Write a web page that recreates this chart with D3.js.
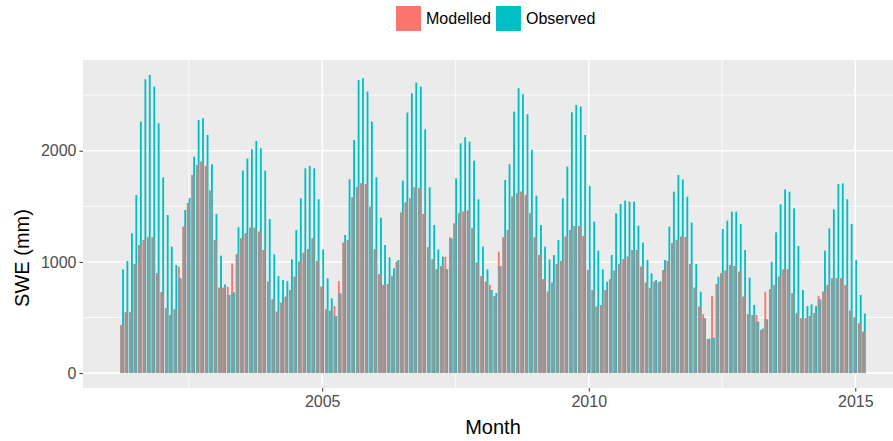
<!DOCTYPE html>
<html>
<head>
<meta charset="utf-8">
<script src="https://cdn.jsdelivr.net/npm/d3@7"></script>
<style>
  body { margin: 0; background: #fff; overflow: hidden; }
  text { font-family: "Liberation Sans", Arial, sans-serif; }
</style>
</head>
<body>
<div class="swechart"></div>
<script>
'use strict';

// monthly series, April 2001 .. March 2015
var firstMonth = "2001-04";
var modelled = [
  432, 546, 546, 981, 1152, 1197, 1221, 1221, 897, 726, 582, 522,
  573, 957, 1317, 1530, 1782, 1872, 1902, 1863, 1641, 1197, 768, 768,
  777, 987, 1068, 1212, 1257, 1308, 1308, 1272, 1107, 822, 663, 552,
  633, 687, 747, 867, 1002, 1083, 1113, 1212, 1008, 777, 573, 561,
  603, 828, 1173, 1197, 1581, 1671, 1707, 1701, 1497, 1113, 888, 792,
  801, 873, 1002, 1443, 1536, 1572, 1671, 1662, 1431, 1131, 1023, 933,
  963, 1047, 1221, 1347, 1437, 1452, 1461, 1302, 993, 870, 822, 792,
  693, 1092, 1221, 1287, 1587, 1617, 1632, 1602, 1437, 1221, 1062, 843,
  732, 813, 981, 1008, 1227, 1287, 1323, 1323, 1233, 927, 747, 597,
  612, 747, 843, 921, 981, 1023, 1047, 1107, 1107, 957, 813, 762,
  822, 815, 927, 1008, 1167, 1197, 1227, 1221, 981, 768, 597, 531,
  303, 693, 801, 897, 921, 972, 963, 912, 687, 531, 522, 522,
  387, 732, 753, 792, 867, 933, 933, 717, 537, 492, 492, 513,
  540, 693, 732, 792, 852, 852, 852, 792, 561, 500, 447, 372
];
var observed = [
  933, 1008, 1257, 1602, 2262, 2643, 2682, 2577, 2247, 1761, 1422, 1137,
  972, 852, 1467, 1575, 1947, 2277, 2292, 2142, 1878, 1431, 1056, 798,
  702, 726, 1311, 1821, 1929, 2013, 2088, 2022, 1821, 1386, 1068, 873,
  837, 828, 1023, 1287, 1572, 1842, 1863, 1842, 1563, 1113, 852, 672,
  513, 717, 1242, 1743, 2097, 2637, 2652, 2532, 2262, 1761, 1398, 1152,
  1041, 942, 1017, 1731, 2343, 2517, 2613, 2577, 2193, 1671, 1332, 1113,
  1047, 933, 1210, 1752, 2067, 2121, 2082, 1911, 1563, 1137, 933, 747,
  720, 963, 1737, 1878, 2352, 2562, 2508, 2328, 2007, 1596, 1332, 1137,
  1023, 1062, 1197, 1572, 1857, 2346, 2412, 2397, 2142, 1683, 1362, 1101,
  933, 822, 1062, 1437, 1521, 1551, 1542, 1542, 1326, 1173, 1017, 897,
  837, 825, 1017, 1317, 1632, 1782, 1743, 1587, 1353, 981, 732, 492,
  310, 318, 867, 1296, 1371, 1452, 1452, 1341, 1107, 858, 612, 462,
  400, 483, 1002, 1266, 1518, 1653, 1632, 1482, 1143, 747, 603, 618,
  603, 663, 1101, 1302, 1473, 1701, 1707, 1563, 1341, 1017, 702, 537
];
var seriesNames = ["Modelled", "Observed"];
var seriesColors = ["#F8766D", "#00BFC4"];
var yTicks = [0, 1000, 2000];
var yMinor = [500, 1500, 2500];
var xTickYears = [2005, 2010, 2015];
var xMinorYears = [2002.5, 2007.5, 2012.5];

var width = 893, height = 441;
var margin = {top: 60, right: -10, bottom: 53, left: 83};
var panelW = width - margin.left - margin.right;
var panelH = height - margin.top - margin.bottom;

var start = d3.timeParse("%Y-%m")(firstMonth);
var months = modelled.map(function(d, i){ return d3.timeMonth.offset(start, i); });
var rows = months.map(function(m, i){ return {month: m, mod: modelled[i], obs: observed[i]}; });

// bar width like ggplot: 0.9 * resolution (28 days), split by dodge
var day = 864e5;
var barDays = 0.9 * 28;
var lo = +months[0] - barDays / 2 * day;
var hi = +months[months.length - 1] + barDays / 2 * day;
var padX = (hi - lo) * 0.05;

var x = d3.scaleTime()
          .domain([new Date(lo - padX), new Date(hi + padX)])
          .range([0, panelW]);

var yMax = d3.max(rows, function(d){ return Math.max(d.mod, d.obs); });
var y = d3.scaleLinear()
          .domain([-0.05 * yMax, 1.05 * yMax])
          .range([panelH, 0]);

function yearDate(v){
  var yr = Math.floor(v);
  var a = new Date(yr, 0, 1), b = new Date(yr + 1, 0, 1);
  return new Date(+a + (v - yr) * (b - a));
}

var svg = d3.select(".swechart")
            .append("svg")
            .attr("width", width)
            .attr("height", height);

var panel = svg.append("g")
               .attr("transform", "translate(" + margin.left + "," + margin.top + ")");

panel.append("rect")
     .attr("width", panelW)
     .attr("height", panelH)
     .attr("fill", "#EBEBEB");

// minor grid
panel.selectAll("line.yminor").data(yMinor).enter().append("line")
     .attr("x1", 0).attr("x2", panelW)
     .attr("y1", function(d){ return y(d); }).attr("y2", function(d){ return y(d); })
     .attr("stroke", "#fff").attr("stroke-width", 0.8);
panel.selectAll("line.xminor").data(xMinorYears).enter().append("line")
     .attr("y1", 0).attr("y2", panelH)
     .attr("x1", function(d){ return x(yearDate(d)); }).attr("x2", function(d){ return x(yearDate(d)); })
     .attr("stroke", "#fff").attr("stroke-width", 0.8);

// major grid
panel.selectAll("line.ymajor").data(yTicks).enter().append("line")
     .attr("x1", 0).attr("x2", panelW)
     .attr("y1", function(d){ return y(d); }).attr("y2", function(d){ return y(d); })
     .attr("stroke", "#fff").attr("stroke-width", 1.5);
panel.selectAll("line.xmajor").data(xTickYears).enter().append("line")
     .attr("y1", 0).attr("y2", panelH)
     .attr("x1", function(d){ return x(yearDate(d)); }).attr("x2", function(d){ return x(yearDate(d)); })
     .attr("stroke", "#fff").attr("stroke-width", 1.5);

// dodged bars
var half = x(new Date(+months[0] + barDays * day)) - x(months[0]);
half = half / 2;

var bars = panel.append("g");
bars.selectAll("rect.mod").data(rows).enter().append("rect")
    .attr("x", function(d){ return x(d.month) - half; })
    .attr("width", half)
    .attr("y", function(d){ return y(d.mod); })
    .attr("height", function(d){ return y(0) - y(d.mod); })
    .attr("fill", seriesColors[0]);
bars.selectAll("rect.obs").data(rows).enter().append("rect")
    .attr("x", function(d){ return x(d.month); })
    .attr("width", half)
    .attr("y", function(d){ return y(d.obs); })
    .attr("height", function(d){ return y(0) - y(d.obs); })
    .attr("fill", seriesColors[1]);
// where both bars stand side by side the colours blur to grey in the original
bars.selectAll("rect.both").data(rows).enter().append("rect")
    .attr("x", function(d){ return x(d.month) - half * 0.95; })
    .attr("width", half * 1.65)
    .attr("y", function(d){ return y(Math.min(d.mod, d.obs)); })
    .attr("height", function(d){ return y(0) - y(Math.min(d.mod, d.obs)); })
    .attr("fill", "#939898");

// axes
var yAxis = d3.axisLeft(y).tickValues(yTicks).tickFormat(d3.format("d"))
              .tickSize(3.5).tickPadding(3);
var gy = panel.append("g").call(yAxis);
gy.select(".domain").remove();
gy.selectAll("line").attr("stroke", "#333");
gy.selectAll("text").attr("fill", "#4D4D4D").style("font-size", "16px")
  .style("font-family", '"Liberation Sans", Arial, sans-serif');

var xAxis = d3.axisBottom(x).tickValues(xTickYears.map(yearDate))
              .tickFormat(d3.timeFormat("%Y")).tickSize(3.5).tickPadding(4);
var gx = panel.append("g").attr("transform", "translate(0," + panelH + ")").call(xAxis);
gx.select(".domain").remove();
gx.selectAll("line").attr("stroke", "#333");
gx.selectAll("text").attr("fill", "#4D4D4D").style("font-size", "16px")
  .style("font-family", '"Liberation Sans", Arial, sans-serif');

// axis titles
svg.append("text")
   .attr("x", 493)
   .attr("y", height - 7)
   .attr("text-anchor", "middle")
   .style("font-size", "20px")
   .text("Month");

svg.append("text")
   .attr("transform", "translate(29,258) rotate(-90)")
   .attr("text-anchor", "middle")
   .style("font-size", "20px")
   .text("SWE (mm)");

// legend
var legend = svg.append("g").attr("transform", "translate(396,6)");
var key = 25, pos = 0;
seriesNames.forEach(function(name, i){
  var item = legend.append("g").attr("transform", "translate(" + pos + ",0)");
  item.append("rect").attr("width", key).attr("height", key).attr("fill", seriesColors[i]);
  var t = item.append("text")
              .attr("x", key + 5)
              .attr("y", key / 2)
              .attr("dy", "0.35em")
              .attr("fill", "#000")
              .style("font-size", "16px")
              .text(name);
  pos += key + 5 + t.node().getComputedTextLength() + 5;
});
</script>
</body>
</html>
